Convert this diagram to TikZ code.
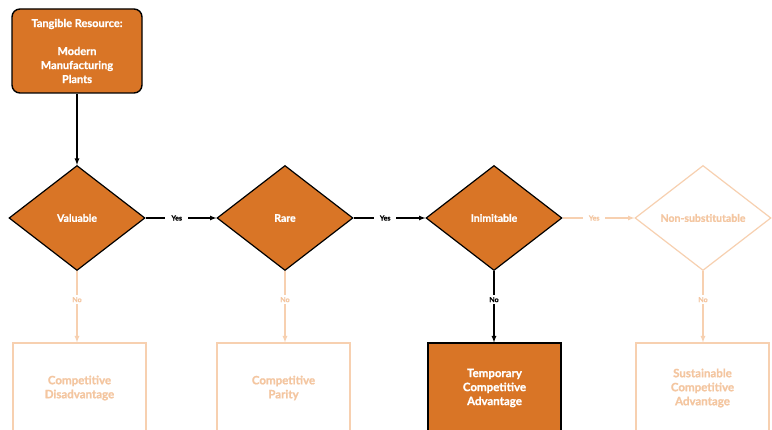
\documentclass[tikz,border=0pt]{standalone}
\usepackage{fontspec}
\setmainfont{Lato}[BoldFeatures={FakeBold=1}]
\usetikzlibrary{shapes.geometric}

\begin{document}
\begin{tikzpicture}[x=1pt,y=-1pt,>=latex,
  every node/.style={font=\bfseries},
  resbox/.style={draw=black,line width=1.4pt,fill=corange,text=white,rounded corners=8pt,
    minimum width=130pt,minimum height=84pt,align=center,font=\bfseries\fontsize{11}{14}\selectfont},
  test/.style={diamond,draw=black,line width=1.2pt,fill=corange,text=white,
    minimum width=136pt,minimum height=105pt,inner sep=0pt,font=\bfseries\fontsize{10.5}{12}\selectfont},
  testoff/.style={test,draw=cfade,fill=white,text=cfadetext},
  outcome/.style={rectangle,draw=black,line width=1.2pt,fill=corange,text=white,
    minimum width=133pt,minimum height=90pt,align=center,font=\bfseries\fontsize{11.5}{14}\selectfont},
  outcomeoff/.style={outcome,draw=cfade,fill=white,text=cfadetext},
  flow/.style={->,line width=1.2pt,draw=black},
  flowoff/.style={->,line width=1.2pt,draw=cfade},
  tag/.style={fill=white,inner xsep=6pt,inner ysep=2pt,font=\bfseries\fontsize{7}{8}\selectfont},
  tagoff/.style={tag,text=cfadetext}]
\definecolor{corange}{rgb}{0.851,0.459,0.149}
\definecolor{cfade}{rgb}{0.969,0.816,0.690}
\definecolor{cfadetext}{rgb}{0.957,0.776,0.627}
%
\clip (0,0) rectangle (772,430);
\fill[white] (0,0) rectangle (772,430);
%
\node[resbox] (res) at (77,51) {Tangible Resource:\\[14pt]Modern\\Manufacturing\\Plants};
%
\node[test] (val) at (77,218) {Valuable};
\node[test] (rar) at (285,218) {Rare};
\node[test] (ini) at (494,218) {Inimitable};
\node[testoff] (non) at (703,218) {Non-substitutable};
%
\node[outcomeoff] (dis) at (79.5,388) {Competitive\\Disadvantage};
\node[outcomeoff] (par) at (283.5,388) {Competitive\\Parity};
\node[outcome] (tem) at (494.5,388) {Temporary\\Competitive\\Advantage};
\node[outcomeoff] (sus) at (702.5,388) {Sustainable\\Competitive\\Advantage};
%
\draw[flow] (res) -- (val);
\draw[flow] (val) -- node[tag,pos=0.44] {Yes} (rar);
\draw[flow] (rar) -- node[tag,pos=0.44] {Yes} (ini);
\draw[flowoff] (ini) -- node[tagoff,pos=0.44] {Yes} (non);
%
\draw[flowoff] (val) -- node[tagoff,pos=0.4] {No} (dis.north -| val);
\draw[flowoff] (rar) -- node[tagoff,pos=0.4] {No} (par.north -| rar);
\draw[flow] (ini) -- node[tag,pos=0.4] {No} (tem.north -| ini);
\draw[flowoff] (non) -- node[tagoff,pos=0.4] {No} (sus.north -| non);
%
\end{tikzpicture}
\end{document}
